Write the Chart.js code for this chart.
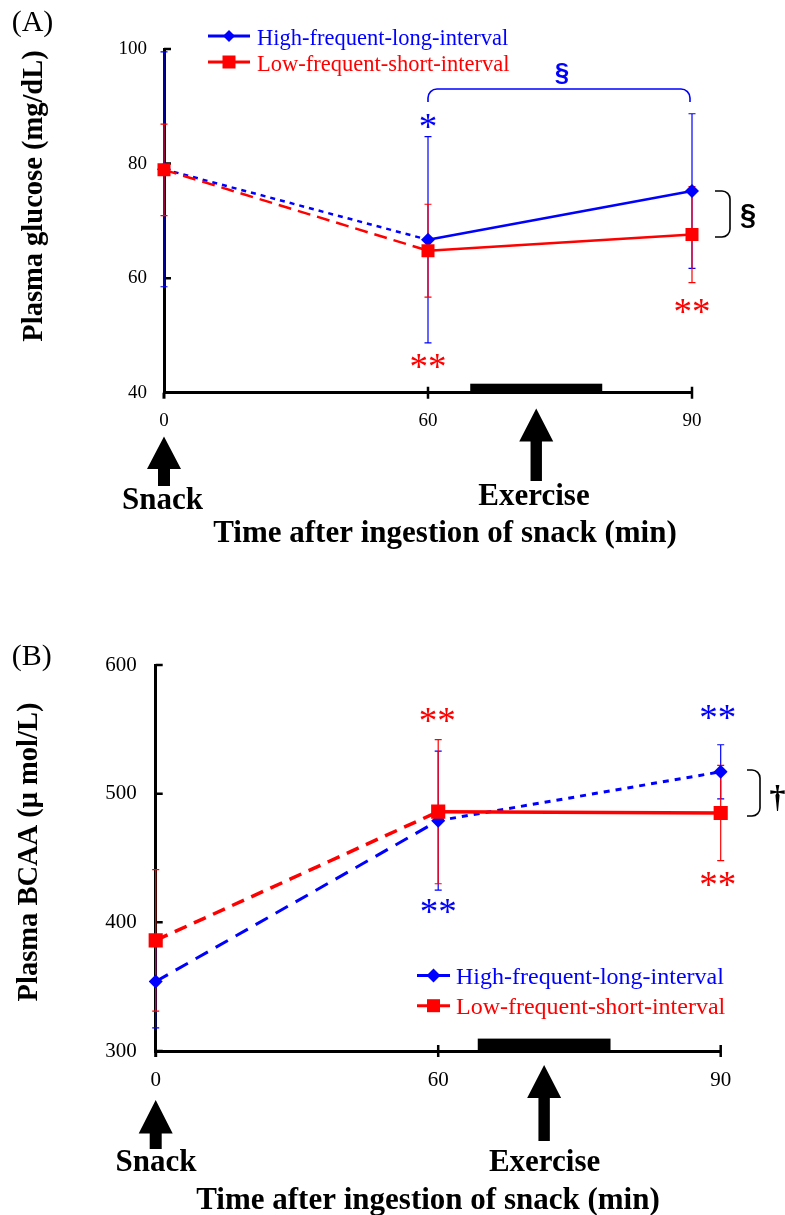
<!DOCTYPE html>
<html><head><meta charset="utf-8">
<script src="https://cdn.jsdelivr.net/npm/chart.js@4.4.1/dist/chart.umd.min.js"></script>
<style>
html,body{margin:0;padding:0;background:#fff;}
#wrap{position:relative;width:785px;height:1215px;overflow:hidden;background:#fff;}
canvas{position:absolute;left:0;}
</style></head><body>
<div id="wrap">
<canvas id="cA" width="785" height="600" style="top:0px"></canvas>
<canvas id="cB" width="785" height="615" style="top:600px"></canvas>
</div>
<script>
// ---- data ----
const timeLabels = ['0', '60', '90'];
const glucoseTickValues = [40, 60, 80, 100];
const bcaaTickValues = [300, 400, 500, 600];
const glucoseHigh = [79.0, 66.7, 75.2];
const glucoseHighSD = [20.5, 18.0, 13.5];
const glucoseLow = [78.9, 64.8, 67.6];
const glucoseLowSD = [8.0, 8.1, 8.4];
const bcaaHigh = [354, 479, 517];
const bcaaHighSD = [36, 54, 21];
const bcaaLow = [386, 486, 485];
const bcaaLowSD = [55, 56, 37];
const seriesNames = ['High-frequent-long-interval', 'Low-frequent-short-interval'];
const exerciseA = [64.8, 79.8];
const exerciseB = [64.2, 78.3];

const BLUE = '#0000ff', RED = '#ff0000';
const SERIF = '"Liberation Serif", "Times New Roman", serif';
const SANS = '"Liberation Sans", Arial, sans-serif';
const XH = 50;

function inkText(ctx, s, x, y, font, color, align) {
  ctx.save();
  ctx.font = font; ctx.fillStyle = color; ctx.textAlign = align || 'center'; ctx.textBaseline = 'alphabetic';
  const m = ctx.measureText(s);
  ctx.fillText(s, x, y + (m.actualBoundingBoxAscent - m.actualBoundingBoxDescent) / 2);
  ctx.restore();
}
function minutePx(xs, m) {
  const mins = timeLabels.map(Number);
  for (let i = 0; i < mins.length - 1; i++) {
    if (m >= mins[i] && m <= mins[i + 1]) {
      const a = xs.getPixelForValue(i), b = xs.getPixelForValue(i + 1);
      return a + (m - mins[i]) / (mins[i + 1] - mins[i]) * (b - a);
    }
  }
  return xs.getPixelForValue(0);
}
function errorBars(ctx, xs, ys, vals, sds, color) {
  ctx.save(); ctx.strokeStyle = color; ctx.lineWidth = 1.2;
  vals.forEach((v, i) => {
    const x = xs.getPixelForValue(i);
    const yt = ys.getPixelForValue(v + sds[i]), yb = ys.getPixelForValue(v - sds[i]);
    ctx.beginPath();
    ctx.moveTo(x, yt); ctx.lineTo(x, yb);
    ctx.moveTo(x - 3.5, yt); ctx.lineTo(x + 3.5, yt);
    ctx.moveTo(x - 3.5, yb); ctx.lineTo(x + 3.5, yb);
    ctx.stroke();
  });
  ctx.restore();
}
function arrow(ctx, x, tip, base, bottom, hh, sh) {
  ctx.save(); ctx.fillStyle = '#000';
  ctx.beginPath();
  ctx.moveTo(x, tip); ctx.lineTo(x + hh, base); ctx.lineTo(x + sh, base); ctx.lineTo(x + sh, bottom);
  ctx.lineTo(x - sh, bottom); ctx.lineTo(x - sh, base); ctx.lineTo(x - hh, base); ctx.closePath(); ctx.fill();
  ctx.restore();
}
function topBracket(ctx, x1, x2, yTop, yEnd, r, color) {
  ctx.save(); ctx.strokeStyle = color; ctx.lineWidth = 1.6;
  ctx.beginPath(); ctx.moveTo(x1, yEnd); ctx.lineTo(x1, yTop + r); ctx.arcTo(x1, yTop, x1 + r, yTop, r);
  ctx.lineTo(x2 - r, yTop); ctx.arcTo(x2, yTop, x2, yTop + r, r); ctx.lineTo(x2, yEnd); ctx.stroke();
  ctx.restore();
}
function rightBracket(ctx, xL, xR, yT, yB, r) {
  ctx.save(); ctx.strokeStyle = '#000'; ctx.lineWidth = 1.6;
  ctx.beginPath(); ctx.moveTo(xL, yT); ctx.lineTo(xR - r, yT); ctx.arcTo(xR, yT, xR, yT + r, r);
  ctx.lineTo(xR, yB - r); ctx.arcTo(xR, yB, xR - r, yB, r); ctx.lineTo(xL, yB); ctx.stroke();
  ctx.restore();
}
function legendItem(ctx, x1, x2, y, color, shape, size, text, font, tx) {
  ctx.save();
  ctx.strokeStyle = color; ctx.fillStyle = color; ctx.lineWidth = 3;
  ctx.beginPath(); ctx.moveTo(x1, y); ctx.lineTo(x2, y); ctx.stroke();
  const cx = (x1 + x2) / 2;
  ctx.beginPath();
  if (shape === 'diamond') { ctx.moveTo(cx, y - size); ctx.lineTo(cx + size, y); ctx.lineTo(cx, y + size); ctx.lineTo(cx - size, y); ctx.closePath(); }
  else { ctx.rect(cx - size, y - size, 2 * size, 2 * size); }
  ctx.fill();
  ctx.restore();
  inkText(ctx, text, tx, y + 3, font, color, 'left');
}
function yTitle(ctx, s, x, y, font, f) {
  ctx.save(); ctx.font = font; ctx.fillStyle = '#000'; ctx.textAlign = 'center'; ctx.textBaseline = 'alphabetic';
  ctx.translate(x, y); ctx.rotate(-Math.PI / 2); ctx.scale(f, 1); ctx.fillText(s, 0, 0);
  ctx.restore();
}
function axisTicks(ctx, xs, ys, tickVals) {
  ctx.save(); ctx.strokeStyle = '#000'; ctx.lineWidth = 2.5;
  const ax = xs.getPixelForValue(0), ay = ys.getPixelForValue(ys.min);
  ctx.beginPath();
  tickVals.forEach(v => { const y = ys.getPixelForValue(v); ctx.moveTo(ax, y); ctx.lineTo(ax + 7, y); });
  for (let i = 1; i < timeLabels.length; i++) { const x = xs.getPixelForValue(i); ctx.moveTo(x, ay - 6); ctx.lineTo(x, ay + 6); }
  ctx.stroke();
  ctx.lineWidth = 3; ctx.beginPath(); ctx.moveTo(ax, ay); ctx.lineTo(ax, ay + 6); ctx.stroke();
  ctx.restore();
}

function makeChart(id, P) {
  const plugin = {
    id: 'deco_' + id,
    beforeDatasetsDraw(chart) {
      const ctx = chart.ctx, xs = chart.scales.x, ys = chart.scales.y;
      axisTicks(ctx, xs, ys, P.ticks);
      const bx1 = minutePx(xs, P.exercise[0]), bx2 = minutePx(xs, P.exercise[1]);
      const ay = ys.getPixelForValue(ys.min);
      ctx.save(); ctx.fillStyle = '#000'; ctx.fillRect(bx1, ay - P.barH, bx2 - bx1, P.barH); ctx.restore();
      errorBars(ctx, xs, ys, P.high, P.highSD, BLUE);
      errorBars(ctx, xs, ys, P.low, P.lowSD, RED);
    },
    afterDraw(chart) {
      P.annot(chart.ctx, chart.scales.x, chart.scales.y);
    }
  };
  return new Chart(document.getElementById(id), {
    type: 'line',
    data: {
      labels: timeLabels,
      datasets: [
        { label: seriesNames[0], data: P.high, borderColor: BLUE, backgroundColor: BLUE, borderWidth: P.blueW,
          pointStyle: 'rectRot', pointRadius: P.diamondR, pointBorderWidth: 0, pointBackgroundColor: BLUE,
          segment: { borderDash: c => P.blueDash[c.p0DataIndex] }, order: 2, tension: 0, fill: false },
        { label: seriesNames[1], data: P.low, borderColor: RED, backgroundColor: RED, borderWidth: P.redW,
          pointStyle: 'rect', pointRadius: P.squareR, pointBorderWidth: 0, pointBackgroundColor: RED,
          segment: { borderDash: c => P.redDash[c.p0DataIndex] }, order: 1, tension: 0, fill: false }
      ]
    },
    options: {
      responsive: false, animation: false, devicePixelRatio: 1,
      layout: { padding: { left: 0, top: P.top, right: P.rightPad, bottom: P.bottomPad - XH } },
      plugins: { legend: { display: false }, tooltip: { enabled: false } },
      scales: {
        x: {
          type: 'category', offset: false,
          grid: { display: false, drawTicks: false },
          border: { display: true, color: '#000', width: 3 },
          ticks: { font: { family: SERIF, size: P.tickSize }, color: '#000', padding: P.xPad, maxRotation: 0, minRotation: 0, autoSkip: false },
          afterFit: s => { s.height = XH; }
        },
        y: {
          type: 'linear', min: P.ticks[0], max: P.ticks[P.ticks.length - 1],
          grid: { display: false, drawTicks: false },
          border: { display: true, color: '#000', width: 3 },
          ticks: { font: { family: SERIF, size: P.tickSize }, color: '#000', padding: P.yPad },
          afterBuildTicks: s => { s.ticks = P.ticks.map(v => ({ value: v })); },
          afterFit: s => { s.width = P.left; }
        }
      }
    },
    plugins: [plugin]
  });
}

// ---- Panel A ----
makeChart('cA', {
  high: glucoseHigh, highSD: glucoseHighSD, low: glucoseLow, lowSD: glucoseLowSD,
  ticks: glucoseTickValues, exercise: exerciseA, barH: 9,
  top: 49, left: 164, rightPad: 93, bottomPad: 207.3, tickSize: 19, xPad: 17, yPad: 17,
  blueW: 2.5, redW: 2.5, diamondR: 7, squareR: 9.2,
  blueDash: [[5, 5], []], redDash: [[13, 7], []],
  annot(ctx, xs, ys) {
    const x0 = xs.getPixelForValue(0), x1 = xs.getPixelForValue(1), x2 = xs.getPixelForValue(2);
    inkText(ctx, '(A)', 32.5, 24, '30px ' + SERIF, '#000');
    legendItem(ctx, 208, 250, 36, BLUE, 'diamond', 6, seriesNames[0], '22.5px ' + SERIF, 257);
    legendItem(ctx, 208, 250, 62, RED, 'square', 6.5, seriesNames[1], '22.5px ' + SERIF, 257);
    inkText(ctx, '*', x1, 121.7, '37px ' + SERIF, BLUE);
    inkText(ctx, '**', x1, 361, '37px ' + SERIF, RED);
    inkText(ctx, '**', x2, 306.7, '37px ' + SERIF, RED);
    topBracket(ctx, x1, x2 - 2, 89, 102, 9, BLUE);
    inkText(ctx, '§', 562, 73, 'bold 26px ' + SANS, BLUE);
    rightBracket(ctx, 715, 730, 191, 237, 8);
    inkText(ctx, '§', 748, 216, 'bold 29px ' + SANS, '#000');
    arrow(ctx, x0, 436.5, 469, 486, 17, 6);
    inkText(ctx, 'Snack', 162.6, 498, 'bold 31px ' + SERIF, '#000');
    const ex = minutePx(xs, (exerciseA[0] + exerciseA[1]) / 2);
    arrow(ctx, ex, 408.5, 441.4, 481, 17, 5.7);
    inkText(ctx, 'Exercise', 534, 494, 'bold 31px ' + SERIF, '#000');
    inkText(ctx, 'Time after ingestion of snack (min)', 445, 534, 'bold 31px ' + SERIF, '#000');
    yTitle(ctx, 'Plasma glucose (mg/dL)', 41.5, 196, 'bold 30px ' + SERIF, 0.95);
  }
});

// ---- Panel B ----
makeChart('cB', {
  high: bcaaHigh, highSD: bcaaHighSD, low: bcaaLow, lowSD: bcaaLowSD,
  ticks: bcaaTickValues, exercise: exerciseB, barH: 12.4,
  top: 65, left: 155.7, rightPad: 64.3, bottomPad: 164, tickSize: 21, xPad: 17, yPad: 19,
  blueW: 3, redW: 3.5, diamondR: 7, squareR: 10,
  blueDash: [[14, 9], [6, 6]], redDash: [[13, 8], []],
  annot(ctx, xs, ys) {
    const x0 = xs.getPixelForValue(0), x1 = xs.getPixelForValue(1), x2 = xs.getPixelForValue(2);
    inkText(ctx, '(B)', 31.7, 57.5, '30px ' + SERIF, '#000');
    inkText(ctx, '**', x1 - 1, 115, '37px ' + SERIF, RED);
    inkText(ctx, '**', x1, 306, '37px ' + SERIF, BLUE);
    inkText(ctx, '**', x2 - 3, 112, '37px ' + SERIF, BLUE);
    inkText(ctx, '**', x2 - 3, 279, '37px ' + SERIF, RED);
    rightBracket(ctx, 747, 760, 170, 216, 8);
    inkText(ctx, '†', 777.5, 198, 'bold 32px ' + SERIF, '#000');
    legendItem(ctx, 417, 450, 375.4, BLUE, 'diamond', 7, seriesNames[0], '24px ' + SERIF, 456);
    legendItem(ctx, 417, 450, 405.7, RED, 'square', 6.5, seriesNames[1], '24px ' + SERIF, 456);
    arrow(ctx, x0, 500, 533.6, 549, 17, 6);
    inkText(ctx, 'Snack', 156, 560, 'bold 31px ' + SERIF, '#000');
    const ex = minutePx(xs, (exerciseB[0] + exerciseB[1]) / 2);
    arrow(ctx, ex, 465, 498, 541, 17, 5.7);
    inkText(ctx, 'Exercise', 544.6, 560, 'bold 31px ' + SERIF, '#000');
    inkText(ctx, 'Time after ingestion of snack (min)', 428, 601, 'bold 31px ' + SERIF, '#000');
    yTitle(ctx, 'Plasma BCAA (\u03bc mol/L)', 36.5, 252, 'bold 30px ' + SERIF, 0.95);
  }
});
</script>
</body></html>
